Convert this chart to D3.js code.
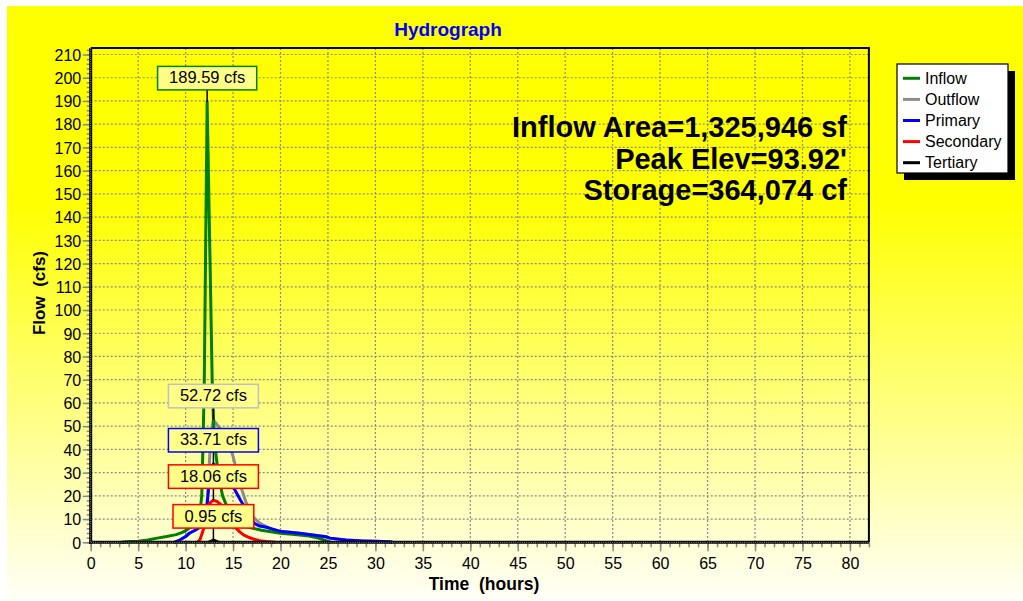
<!DOCTYPE html>
<html><head><meta charset="utf-8">
<script src="https://cdn.jsdelivr.net/npm/d3@7"></script>
<style>html,body{margin:0;padding:0;background:#fff}svg{display:block;font-family:Arial,"Liberation Sans",sans-serif}</style>
</head><body>
<script>
// ---- data ----
const seriesNames = ["Inflow","Outflow","Primary","Secondary","Tertiary"];
const seriesColors = ["#008000","#8c8c8c","#0000ff","#ff0000","#000000"];

const inflowTime = [3.2,4,5,6,7,8,9,9.6,10,10.5,11,11.5,11.7,11.85,11.97,12.27,12.8,13.0,13.25,13.5,13.9,14.5,15.2,15.8,16.4,17.1,18,19,20,21.5,23,24,24.8,25.3];
const inflowFlow = [0,0.3,0.5,1.0,1.8,2.5,3.3,4.2,5,6.5,8.5,12.5,20,45,70,189.59,70,45,36,28,20,14,10,8,6.7,6,5.2,4.5,3.9,3.4,2.7,1.8,0.7,0];

const outflowTime = [8.8,9.3,10,10.4,11,11.7,12.0,12.2,12.4,12.55,12.7,12.93,13.2,13.6,14.3,15.0,15.7,16.4,17.1,17.8,18.5,19.2,20,22,23.4,24.8,25.2,26.9,28.7,30,31.5,31.8];
const outflowFlow = [0,0.8,2.5,3.9,5.2,7,9,14,25,38,48,52.72,51.3,49,45.5,37,25.4,16.8,11,8.3,6.8,5.4,4.8,3.9,3.2,2.4,1.8,1.0,0.6,0.4,0.25,0];

const primaryTime = [8.8,9.3,10,10.4,11,11.7,12.0,12.2,12.4,12.55,12.7,12.93,13.3,13.8,14.3,14.8,15.2,15.8,16.4,16.9,17.3,17.8,18.5,19.9,22.0,23.4,24.8,25.2,26.9,28.7,30,31.5,31.8];
const primaryFlow = [0,0.8,2.5,3.9,5.2,7,9,13,22,28,32,33.71,32.5,30.5,28,25,22.5,18,14,10,8,7,6.5,4.8,3.9,3.1,2.4,1.8,1.0,0.6,0.4,0.25,0];

const secondaryTime = [11.2,11.5,11.8,12.1,12.4,12.65,12.95,13.3,13.7,14.1,14.5,14.9,15.3,15.7,16.1,16.6,17.2,17.8,18.5,19.2,19.5];
const secondaryFlow = [0,1,4.5,9,15,17.3,18.06,17.6,16.3,13.5,11,8.5,6.2,4.5,3.2,2.2,1.3,0.7,0.3,0.1,0];

const tertiaryTime = [12.4,12.7,12.93,13.2,13.5];
const tertiaryFlow = [0,0.5,0.95,0.5,0];

const peakLabels = ["189.59 cfs","52.72 cfs","33.71 cfs","18.06 cfs","0.95 cfs"];
const peakTimes = [12.27,12.93,12.93,12.93,12.93];
const peakFlows = [189.59,52.72,33.71,18.06,0.95];
const peakBorders = ["#008000","#c0c0c0","#0000ff","#ff0000","#ff0000"];

const infoLines = ["Inflow Area=1,325,946 sf","Peak Elev=93.92'","Storage=364,074 cf"];
const yTicks = d3.range(0,211,10);
const xTicks = d3.range(0,81,5);

// ---- drawing ----
const W=1023,H=601;
const svg=d3.select("body").append("svg").attr("width",W).attr("height",H);
const defs=svg.append("defs");
const g1=defs.append("linearGradient").attr("id","bg").attr("x1",0).attr("y1",0).attr("x2",0).attr("y2",1);
g1.append("stop").attr("offset","0%").attr("stop-color","#ffff00");
g1.append("stop").attr("offset","33%").attr("stop-color","#ffff00");
g1.append("stop").attr("offset","100%").attr("stop-color","#fffff8");
svg.append("rect").attr("width",W).attr("height",H).attr("fill","#fff");
svg.append("rect").attr("x",7).attr("y",6).attr("width",W-7).attr("height",H-6).attr("fill","url(#bg)");

const L=90.7,R=868.9,T=48,B=542.3;
const x=d3.scaleLinear().domain([0,82]).range([L,R]);
const y=d3.scaleLinear().domain([0,212.8]).range([B,T]);

// grid
const grid=svg.append("g").attr("stroke","#8a8a8a").attr("stroke-width",1.2).attr("stroke-dasharray","2,2");
grid.selectAll(".h").data(yTicks.filter(d=>d>0)).join("line")
  .attr("x1",L).attr("x2",R).attr("y1",d=>y(d)).attr("y2",d=>y(d));
grid.selectAll(".v").data(xTicks.filter(d=>d>0)).join("line")
  .attr("y1",T).attr("y2",B).attr("x1",d=>x(d)).attr("x2",d=>x(d));

// border top/right
svg.append("path").attr("d",`M${L},${T}H${R}V${B}`).attr("fill","none").attr("stroke","#000").attr("stroke-width",2);

// curves
const line=d3.line().x(d=>x(d[0])).y(d=>y(d[1]));
const seriesData=[
  d3.zip(outflowTime,outflowFlow),
  d3.zip(inflowTime,inflowFlow),
  d3.zip(primaryTime,primaryFlow),
  d3.zip(secondaryTime,secondaryFlow),
  d3.zip(tertiaryTime,tertiaryFlow)];
const seriesCol=[seriesColors[1],seriesColors[0],seriesColors[2],seriesColors[3],seriesColors[4]];
svg.append("g").selectAll("path").data(seriesData).join("path")
  .attr("d",line).attr("fill","none").attr("stroke",(d,i)=>seriesCol[i])
  .attr("stroke-width",3).attr("stroke-linejoin","round");

// y axis
const yAxis=d3.axisLeft(y).tickValues(d3.range(0,213,2)).tickSize(4).tickFormat("");
const ya=svg.append("g").attr("transform",`translate(${L},0)`).call(yAxis);
ya.select(".domain").remove();
ya.selectAll(".tick line").attr("stroke","#888").attr("stroke-width",1.5);
const yAxisMaj=d3.axisLeft(y).tickValues(yTicks).tickSize(8).tickFormat(d3.format("d")).tickPadding(3);
const ym=svg.append("g").attr("transform",`translate(${L},0)`).call(yAxisMaj);
ym.select(".domain").remove();
ym.selectAll(".tick line").attr("stroke","#888").attr("stroke-width",1.5);
ym.selectAll(".tick text").attr("font-size","16px").attr("fill","#000").attr("font-family","Arial, Liberation Sans").attr("dy","0.36em").attr("x",-9.5);

// x axis
const xAxis=d3.axisBottom(x).tickValues(d3.range(0,83,1)).tickSize(5).tickFormat("");
const xa=svg.append("g").attr("transform",`translate(0,${B})`).call(xAxis);
xa.select(".domain").remove();
xa.selectAll(".tick line").attr("stroke","#888").attr("stroke-width",1.5);
const xAxisMaj=d3.axisBottom(x).tickValues(xTicks).tickSize(9).tickFormat(d3.format("d")).tickPadding(6);
const xm=svg.append("g").attr("transform",`translate(0,${B})`).call(xAxisMaj);
xm.select(".domain").remove();
xm.selectAll(".tick line").attr("stroke","#888").attr("stroke-width",1.5);
xm.selectAll(".tick text").attr("font-size","16px").attr("fill","#000").attr("font-family","Arial, Liberation Sans");

// axis lines
svg.append("line").attr("x1",L).attr("x2",L).attr("y1",T).attr("y2",B+1.5).attr("stroke","#000").attr("stroke-width",3);
svg.append("line").attr("x1",L-1.5).attr("x2",R).attr("y1",B).attr("y2",B).attr("stroke","#000").attr("stroke-width",3);
svg.append("line").attr("x1",L).attr("x2",R).attr("y1",B).attr("y2",B).attr("stroke","#999").attr("stroke-width",1).attr("stroke-dasharray","1,1.2");
svg.append("line").attr("x1",L).attr("x2",L).attr("y1",T).attr("y2",B).attr("stroke","#999").attr("stroke-width",1).attr("stroke-dasharray","1,1.2");

// peak labels
const pl=svg.append("g");
peakLabels.forEach((lab,i)=>{
  const px=x(peakTimes[i]), py=y(peakFlows[i]);
  const t=pl.append("text").attr("x",px).attr("y",py-12-6.5).attr("text-anchor","middle")
    .attr("font-size","16.5px").attr("fill","#000").text(lab);
  const w=t.node().getComputedTextLength()+23;
  pl.insert("line","text").attr("x1",px).attr("x2",px).attr("y1",py-12).attr("y2",py).attr("stroke","#000").attr("stroke-width",1.5);
  pl.insert("rect","text").attr("x",px-w/2).attr("y",py-12-23.5).attr("width",w).attr("height",23.5)
    .attr("fill","#ffff88").attr("stroke",peakBorders[i]).attr("stroke-width",1.5);
});

// info text
svg.append("g").selectAll("text").data(infoLines).join("text")
  .attr("x",847).attr("y",(d,i)=>137+i*31.6).attr("text-anchor","end")
  .attr("font-size","29px").attr("font-weight","bold").attr("fill","#000").text(d=>d);

// titles
svg.append("text").attr("x",448).attr("y",36).attr("text-anchor","middle").attr("font-size","19px")
  .attr("font-weight","bold").attr("fill","#0000ff").text("Hydrograph");
svg.append("text").attr("x",484).attr("y",590).attr("text-anchor","middle").attr("font-size","17.5px")
  .attr("font-weight","bold").attr("fill","#000").style("white-space","pre").text("Time  (hours)");
svg.append("text").attr("transform","translate(45,293) rotate(-90)").attr("text-anchor","middle").attr("font-size","17px")
  .attr("font-weight","bold").attr("fill","#000").style("white-space","pre").text("Flow  (cfs)");

// legend
const lg=svg.append("g");
lg.append("rect").attr("x",904).attr("y",71).attr("width",111).attr("height",109).attr("fill","#000");
lg.append("rect").attr("x",897).attr("y",64).attr("width",111).attr("height",109).attr("fill","#fff").attr("stroke","#000").attr("stroke-width",1.2);
seriesNames.forEach((n,i)=>{
  const cy=78.3+i*21.1;
  lg.append("line").attr("x1",903).attr("x2",920).attr("y1",cy).attr("y2",cy).attr("stroke",seriesColors[i]).attr("stroke-width",3);
  lg.append("text").attr("x",925).attr("y",cy+5.5).attr("font-size","16px").attr("fill","#000").text(n);
});
</script>
</body></html>
